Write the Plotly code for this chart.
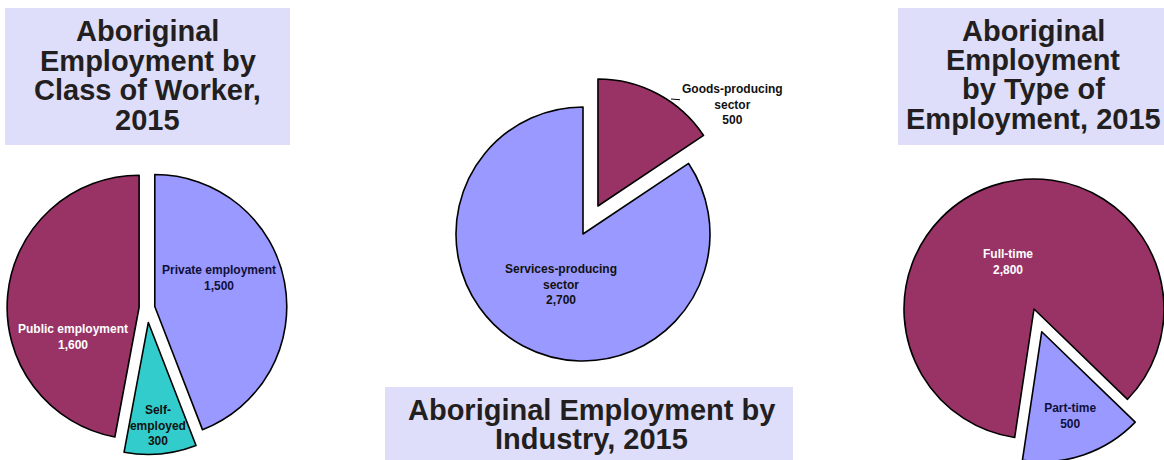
import plotly.graph_objects as go

# ---------------- data ----------------
class_labels = ["Private employment", "Self-employed", "Public employment"]
class_text = ["Private employment", "Self-<br>employed", "Public employment"]
class_values = [1500, 300, 1600]

industry_labels = ["Goods-producing sector", "Services-producing sector"]
industry_text = ["Goods-producing<br>sector", "Services-producing<br>sector"]
industry_values = [500, 2700]

type_labels = ["Full-time", "Part-time"]
type_text = ["Full-time", "Part-time"]
type_values = [2800, 500]

title_class = ["Aboriginal", "Employment by", "Class of Worker,", "2015"]
title_industry = ["Aboriginal Employment by", "Industry, 2015"]
title_type = ["Aboriginal", "Employment", "by Type of", "Employment, 2015"]

# ---------------- style ----------------
MAROON = "#993366"
LAVENDER = "#9999ff"
TEAL = "#33cccc"
BOX = "#dedefa"
TITLE_C = "#231f20"
DARK = "#111111"
NAVY = "#10103a"
FONT = "Liberation Sans"

W, H = 1200, 480  # canvas (viewport shows 1164x460)


def px(x):
    return x / W


def py(y):
    return 1 - y / H


def domain(cx, cy, r, maxpull):
    half = r * (1 + maxpull)
    return dict(x=[max(0, px(cx - half)), min(1, px(cx + half))],
                y=[max(0, py(cy + half)), min(1, py(cy - half))])


line = dict(color="black", width=1.6)

fig = go.Figure()

pull1 = [0.06, 0.11, 0.06]
fig.add_trace(go.Pie(
    labels=class_labels, values=class_values, text=class_text,
    texttemplate="%{text}<br>%{value:,}",
    sort=False, direction="clockwise", rotation=0, pull=pull1,
    marker=dict(colors=[LAVENDER, TEAL, MAROON], line=line),
    textposition=["none", "inside", "none"], insidetextorientation="horizontal",
    insidetextfont=dict(family=FONT, size=12, weight="bold", color=[NAVY, DARK, "white"]),
    domain=domain(147, 308, 132, max(pull1)), hoverinfo="skip",
))

pull2 = [0.25, 0]
fig.add_trace(go.Pie(
    labels=industry_labels, values=industry_values, text=industry_text,
    sort=False, direction="clockwise", rotation=0, pull=pull2,
    marker=dict(colors=[MAROON, LAVENDER], line=line),
    textinfo="none",
    domain=domain(583, 234, 127, max(pull2)), hoverinfo="skip",
))

pull3 = [0, 0.185]
fig.add_trace(go.Pie(
    labels=type_labels, values=type_values, text=type_text,
    texttemplate="%{text}<br>%{value:,}",
    sort=False, direction="clockwise", rotation=-171.45, pull=pull3,
    marker=dict(colors=[MAROON, LAVENDER], line=line),
    textposition=["none", "inside"], insidetextorientation="horizontal",
    insidetextfont=dict(family=FONT, size=12, weight="bold", color=["white", NAVY]),
    domain=domain(1034, 309, 130, max(pull3)), hoverinfo="skip",
))

# ---------------- titles & placed labels ----------------
shapes = []
annotations = []


def add_title(lines, x0, x1, y0, y1, cx, centers):
    shapes.append(dict(type="rect", xref="paper", yref="paper",
                       x0=px(x0), x1=px(x1), y0=py(y1), y1=py(y0),
                       fillcolor=BOX, line=dict(width=0), layer="below"))
    for txt, cy in zip(lines, centers):
        annotations.append(dict(text=txt, xref="paper", yref="paper",
                                x=px(cx), y=py(cy), xanchor="center", yanchor="middle",
                                showarrow=False,
                                font=dict(family=FONT, size=29, color=TITLE_C, weight="bold")))


add_title(title_class, 5, 290, 8, 145, 147.5, [31, 61, 90, 120])
add_title(title_industry, 385, 793, 387, 480, 591, [410, 439])
add_title(title_type, 898, 1200, 8, 145, 1033, [31, 60, 89, 119])


def slice_label(text, value, x, y, color, **kw):
    d = dict(text=f"{text}<br>{value:,}", xref="paper", yref="paper",
             x=px(x), y=py(y), xanchor="center", yanchor="middle", showarrow=False,
             font=dict(family=FONT, size=12, color=color, weight="bold"))
    d.update(kw)
    annotations.append(d)


slice_label(class_text[0], class_values[0], 219, 278, NAVY)
slice_label(class_text[2], class_values[2], 73, 337, "white")
slice_label(industry_text[1], industry_values[1], 561, 284, DARK)
slice_label(type_text[0], type_values[0], 1008, 262, "white")
# Goods-producing: outside label with a short leader line
annotations.append(dict(
    text=f"{industry_text[0]}<br>{industry_values[0]:,}", xref="paper", yref="paper",
    x=px(671), y=py(99), ax=61, ay=5, axref="pixel", ayref="pixel",
    showarrow=True, arrowhead=0, arrowwidth=1, arrowcolor="black", standoff=0,
    font=dict(family=FONT, size=12, color=DARK, weight="bold")))

fig.update_layout(
    width=W, height=H, autosize=False,
    margin=dict(l=0, r=0, t=0, b=0, pad=0, autoexpand=False),
    paper_bgcolor="white", plot_bgcolor="white",
    showlegend=False,
    uniformtext=dict(minsize=12, mode="show"),
    shapes=shapes, annotations=annotations,
    font=dict(family=FONT),
)

fig.write_html(
    "out.html",
    config={"displayModeBar": False, "staticPlot": True},
    post_script="document.documentElement.style.overflow='hidden';"
                "document.body.style.overflow='hidden';document.body.style.margin='0';",
)
